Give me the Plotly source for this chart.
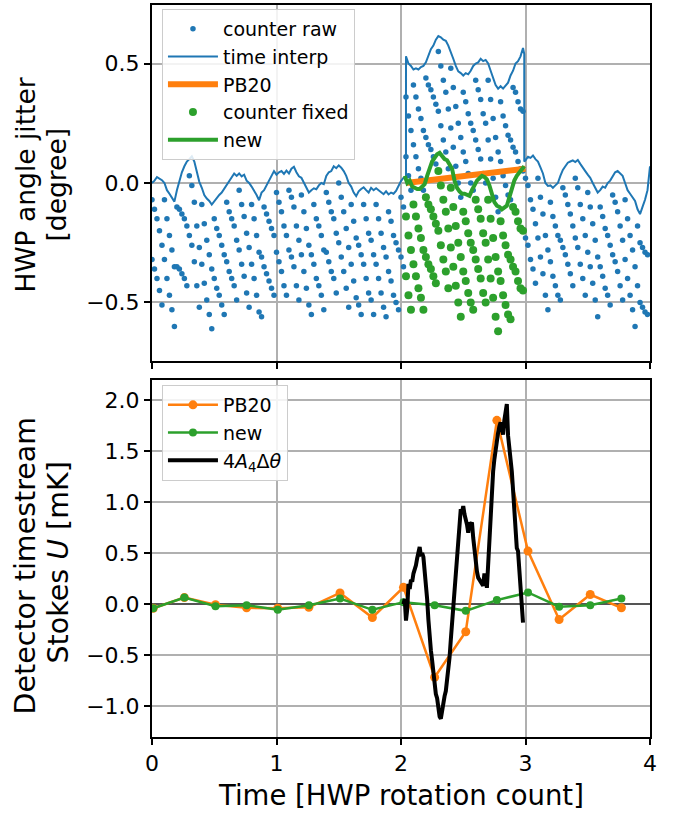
import plotly.graph_objects as go

BLUE = '#1f77b4'
ORANGE = '#ff7f0e'
GREEN = '#2ca02c'

# ---------------- top panel data ----------------
# time-interpolated HWP angle jitter (blue line)
interp_t = [0.00, 0.02, 0.04, 0.06, 0.08, 0.10, 0.12, 0.14, 0.16, 0.18,
            0.20, 0.22, 0.24, 0.26, 0.28, 0.30, 0.32, 0.34, 0.36, 0.38,
            0.40, 0.42, 0.44, 0.46, 0.48, 0.50, 0.52, 0.54, 0.56, 0.58,
            0.60, 0.62, 0.64, 0.66, 0.68, 0.70, 0.72, 0.74, 0.76, 0.78,
            0.80, 0.82, 0.84, 0.86, 0.88, 0.90, 0.92, 0.94, 0.96, 0.98,
            1.00, 1.02, 1.04, 1.06, 1.08, 1.10, 1.12, 1.14, 1.16, 1.18,
            1.20, 1.22, 1.24, 1.26, 1.28, 1.30, 1.32, 1.34, 1.36, 1.38,
            1.40, 1.42, 1.44, 1.46, 1.48, 1.50, 1.52, 1.54, 1.56, 1.58,
            1.60, 1.62, 1.64, 1.66, 1.68, 1.70, 1.72, 1.74, 1.76, 1.78,
            1.80, 1.82, 1.84, 1.86, 1.88, 1.90, 1.92, 1.94, 1.96, 1.98,
            2.00, 2.02, 2.04, 2.04, 2.06, 2.08, 2.10, 2.12, 2.14, 2.16, 2.18,
            2.20, 2.22, 2.24, 2.26, 2.28, 2.30, 2.32, 2.34, 2.36, 2.38,
            2.40, 2.42, 2.44, 2.46, 2.48, 2.50, 2.52, 2.54, 2.56, 2.58,
            2.60, 2.62, 2.64, 2.66, 2.68, 2.70, 2.72, 2.74, 2.76, 2.78,
            2.80, 2.82, 2.84, 2.86, 2.88, 2.90, 2.92, 2.94, 2.96, 2.98,
            2.99, 2.99, 3.00, 3.02, 3.04, 3.06, 3.08, 3.10, 3.12, 3.14, 3.16, 3.18,
            3.20, 3.22, 3.24, 3.26, 3.28, 3.30, 3.32, 3.34, 3.36, 3.38,
            3.40, 3.42, 3.44, 3.46, 3.48, 3.50, 3.52, 3.54, 3.56, 3.58,
            3.60, 3.62, 3.64, 3.66, 3.68, 3.70, 3.72, 3.74, 3.76, 3.78,
            3.80, 3.82, 3.84, 3.86, 3.88, 3.90, 3.92, 3.94, 3.96, 3.98, 4.00]
interp_v = [0.00, 0.01, 0.025, 0.018, 0.012, 0.0, -0.03, -0.045, -0.06, -0.078,
            -0.03, 0.01, 0.045, 0.07, 0.09, 0.10, 0.112, 0.09, 0.04, 0.005,
            -0.02, -0.05, -0.065, -0.075, -0.09, -0.075, -0.065, -0.05, -0.04, -0.025,
            -0.01, 0.005, 0.02, 0.04, 0.03, 0.04, 0.028, 0.035, 0.01, 0.0,
            -0.015, -0.03, -0.05, -0.072, -0.04, -0.03, -0.01, 0.015, 0.03, 0.05,
            0.035, 0.045, 0.05, 0.038, 0.052, 0.04, 0.06, 0.068, 0.045, 0.028,
            0.022, 0.0, -0.015, -0.04, -0.03, -0.022, -0.026, -0.01, 0.0, -0.005,
            0.03, 0.045, 0.05, 0.07, 0.062, 0.074, 0.064, 0.05, 0.03, 0.0,
            -0.015, -0.04, -0.055, -0.035, -0.025, -0.018, -0.03, -0.04, -0.02, -0.03,
            -0.022, -0.03, -0.04, -0.047, -0.035, -0.048, -0.04, -0.045, -0.033, -0.01,
            0.008, 0.022, 0.025, 0.53, 0.50, 0.49, 0.475, 0.48, 0.475, 0.485, 0.49,
            0.505, 0.53, 0.56, 0.575, 0.60, 0.615, 0.61, 0.60, 0.595, 0.575,
            0.55, 0.52, 0.49, 0.467, 0.46, 0.45, 0.46, 0.455, 0.47, 0.49,
            0.50, 0.505, 0.52, 0.51, 0.515, 0.50, 0.47, 0.44, 0.41, 0.395,
            0.405, 0.395, 0.41, 0.42, 0.45, 0.47, 0.50, 0.51, 0.53, 0.565,
            0.54, 0.09, 0.095, 0.11, 0.105, 0.115, 0.10, 0.09, 0.065, 0.04, 0.0, -0.012,
            -0.01, -0.02, -0.01, 0.0, 0.03, 0.055, 0.07, 0.085, 0.09, 0.095,
            0.088, 0.096, 0.08, 0.067, 0.05, 0.035, 0.022, 0.0, -0.02, -0.04,
            -0.03, -0.015, -0.02, 0.0, 0.01, 0.025, 0.045, 0.05, 0.04, 0.03,
            0.0, -0.03, -0.045, -0.06, -0.075, -0.11, -0.13, -0.10, -0.07, -0.03, 0.07]

# raw counter samples (blue dots): two dots per sample time
raw_t = [0.00, 0.02, 0.04, 0.06, 0.08, 0.10, 0.12, 0.14, 0.16, 0.18,
         0.20, 0.22, 0.24, 0.26, 0.28, 0.30, 0.32, 0.34, 0.36, 0.38,
         0.40, 0.42, 0.44, 0.46, 0.48, 0.50, 0.52, 0.54, 0.56, 0.58,
         0.60, 0.62, 0.64, 0.66, 0.68, 0.70, 0.72, 0.74, 0.76, 0.78,
         0.80, 0.82, 0.84, 0.86, 0.88, 0.90, 0.92, 0.94, 0.96, 0.98,
         1.00, 1.02, 1.04, 1.06, 1.08, 1.10, 1.12, 1.14, 1.16, 1.18,
         1.20, 1.22, 1.24, 1.26, 1.28, 1.30, 1.32, 1.34, 1.36, 1.38,
         1.40, 1.42, 1.44, 1.46, 1.48, 1.50, 1.52, 1.54, 1.56, 1.58,
         1.60, 1.62, 1.64, 1.66, 1.68, 1.70, 1.72, 1.74, 1.76, 1.78,
         1.80, 1.82, 1.84, 1.86, 1.88, 1.90, 1.92, 1.94, 1.96, 1.98,
         2.00, 2.02, 2.04, 2.06, 2.08, 2.10, 2.12, 2.14, 2.16, 2.18,
         2.20, 2.22, 2.24, 2.26, 2.28, 2.30, 2.32, 2.34, 2.36, 2.38,
         2.40, 2.42, 2.44, 2.46, 2.48, 2.50, 2.52, 2.54, 2.56, 2.58,
         2.60, 2.62, 2.64, 2.66, 2.68, 2.70, 2.72, 2.74, 2.76, 2.78,
         2.80, 2.82, 2.84, 2.86, 2.88, 2.90, 2.92, 2.94, 2.96, 2.98,
         3.00, 3.02, 3.04, 3.06, 3.08, 3.10, 3.12, 3.14, 3.16, 3.18,
         3.20, 3.22, 3.24, 3.26, 3.28, 3.30, 3.32, 3.34, 3.36, 3.38,
         3.40, 3.42, 3.44, 3.46, 3.48, 3.50, 3.52, 3.54, 3.56, 3.58,
         3.60, 3.62, 3.64, 3.66, 3.68, 3.70, 3.72, 3.74, 3.76, 3.78,
         3.80, 3.82, 3.84, 3.86, 3.88, 3.90, 3.92, 3.94, 3.96, 3.98]
raw_hi = [-0.07, -0.11, -0.15, -0.20, -0.26, -0.07, -0.15, -0.22, -0.28, -0.35,
          -0.10, -0.11, -0.13, -0.15, -0.18, 0.03, -0.01, -0.08, -0.18, -0.27,
          -0.09, -0.17, -0.24, -0.30, -0.36, -0.15, -0.19, -0.22, -0.26, -0.30,
          -0.08, -0.12, -0.15, -0.18, -0.24, -0.03, -0.09, -0.14, -0.21, -0.27,
          -0.09, -0.15, -0.22, -0.29, -0.31, -0.10, -0.13, -0.16, -0.19, -0.22,
          -0.04, -0.08, -0.12, -0.18, -0.22, -0.03, -0.06, -0.10, -0.18, -0.24,
          -0.05, -0.12, -0.19, -0.26, -0.30, -0.09, -0.15, -0.18, -0.22, -0.28,
          -0.04, -0.08, -0.12, -0.15, -0.21, 0.00, -0.06, -0.12, -0.19, -0.27,
          -0.09, -0.16, -0.23, -0.26, -0.30, -0.09, -0.15, -0.21, -0.24, -0.30,
          -0.09, -0.15, -0.21, -0.27, -0.31, -0.12, -0.16, -0.22, -0.25, -0.28,
          -0.06, -0.10, 0.36, 0.28, 0.22, 0.41, 0.36, 0.31, 0.27, 0.22,
          0.44, 0.41, 0.39, 0.36, 0.33, 0.55, 0.49, 0.43, 0.38, 0.31,
          0.48, 0.40, 0.32, 0.25, 0.19, 0.38, 0.34, 0.29, 0.25, 0.22,
          0.43, 0.39, 0.35, 0.29, 0.25, 0.43, 0.35, 0.27, 0.19, 0.13,
          0.34, 0.28, 0.24, 0.20, 0.18, 0.40, 0.38, 0.34, 0.31, 0.30,
          0.02, -0.01, -0.07, -0.11, -0.17, 0.02, -0.06, -0.13, -0.22, -0.28,
          -0.08, -0.14, -0.18, -0.22, -0.24, -0.02, -0.05, -0.09, -0.13, -0.18,
          0.02, -0.02, -0.09, -0.15, -0.22, -0.04, -0.10, -0.17, -0.24, -0.31,
          -0.10, -0.14, -0.19, -0.22, -0.26, -0.05, -0.08, -0.12, -0.18, -0.24,
          -0.07, -0.15, -0.22, -0.28, -0.35, -0.18, -0.25, -0.27, -0.29, -0.30]
raw_lo = [-0.32, -0.36, -0.40, -0.45, -0.51, -0.32, -0.40, -0.47, -0.53, -0.60,
          -0.35, -0.36, -0.38, -0.40, -0.43, -0.22, -0.26, -0.33, -0.43, -0.52,
          -0.34, -0.42, -0.49, -0.55, -0.61, -0.40, -0.44, -0.47, -0.51, -0.55,
          -0.33, -0.37, -0.40, -0.43, -0.49, -0.28, -0.34, -0.39, -0.46, -0.52,
          -0.34, -0.40, -0.47, -0.54, -0.56, -0.35, -0.38, -0.41, -0.44, -0.47,
          -0.29, -0.33, -0.37, -0.43, -0.47, -0.28, -0.31, -0.35, -0.43, -0.49,
          -0.30, -0.37, -0.44, -0.51, -0.55, -0.34, -0.40, -0.43, -0.47, -0.53,
          -0.29, -0.33, -0.37, -0.40, -0.46, -0.25, -0.31, -0.37, -0.44, -0.52,
          -0.34, -0.41, -0.48, -0.51, -0.55, -0.34, -0.40, -0.46, -0.49, -0.55,
          -0.34, -0.40, -0.46, -0.52, -0.56, -0.37, -0.41, -0.47, -0.50, -0.53,
          -0.31, -0.35, 0.11, 0.03, -0.03, 0.16, 0.11, 0.06, 0.02, -0.03,
          0.19, 0.16, 0.14, 0.11, 0.08, 0.30, 0.24, 0.18, 0.13, 0.06,
          0.23, 0.15, 0.07, 0.00, -0.06, 0.13, 0.09, 0.04, 0.00, -0.03,
          0.18, 0.14, 0.10, 0.04, 0.00, 0.18, 0.10, 0.02, -0.06, -0.12,
          0.09, 0.03, -0.01, -0.05, -0.07, 0.15, 0.13, 0.09, 0.06, 0.05,
          -0.23, -0.26, -0.32, -0.36, -0.42, -0.23, -0.31, -0.38, -0.47, -0.53,
          -0.33, -0.39, -0.43, -0.47, -0.49, -0.27, -0.30, -0.34, -0.38, -0.43,
          -0.23, -0.27, -0.34, -0.40, -0.47, -0.29, -0.35, -0.42, -0.49, -0.56,
          -0.35, -0.39, -0.44, -0.47, -0.51, -0.30, -0.33, -0.37, -0.43, -0.49,
          -0.32, -0.40, -0.47, -0.53, -0.60, -0.43, -0.50, -0.52, -0.54, -0.55]

# PB20 correction (orange band)
pb20_top_t = [2.04, 2.52, 3.00]
pb20_top_v = [0.00, 0.03, 0.06]

# fixed counter samples (green dots)
fix_t = [2.04, 2.06, 2.08, 2.10, 2.12, 2.14, 2.16, 2.18,
         2.20, 2.22, 2.24, 2.26, 2.28, 2.30, 2.32, 2.34, 2.36, 2.38,
         2.40, 2.42, 2.44, 2.46, 2.48, 2.50, 2.52, 2.54, 2.56, 2.58,
         2.60, 2.62, 2.64, 2.66, 2.68, 2.70, 2.72, 2.74, 2.76, 2.78,
         2.80, 2.82, 2.84, 2.86, 2.88, 2.90, 2.92, 2.94, 2.96, 2.98]
fix_hi = [-0.14, -0.22, -0.28, -0.09, -0.14, -0.19, -0.23, -0.28,
          -0.06, -0.09, -0.11, -0.14, -0.17, 0.05, -0.01, -0.07, -0.12, -0.19,
          -0.02, -0.10, -0.18, -0.25, -0.31, -0.12, -0.16, -0.21, -0.25, -0.28,
          -0.07, -0.11, -0.15, -0.21, -0.25, -0.07, -0.15, -0.23, -0.31, -0.37,
          -0.16, -0.22, -0.26, -0.30, -0.32, -0.10, -0.12, -0.16, -0.19, -0.20]
fix_lo = [-0.39, -0.47, -0.53, -0.34, -0.39, -0.44, -0.48, -0.53,
          -0.31, -0.34, -0.36, -0.39, -0.42, -0.20, -0.26, -0.32, -0.37, -0.44,
          -0.27, -0.35, -0.43, -0.50, -0.56, -0.37, -0.41, -0.46, -0.50, -0.53,
          -0.32, -0.36, -0.40, -0.46, -0.50, -0.32, -0.40, -0.48, -0.56, -0.62,
          -0.41, -0.47, -0.51, -0.55, -0.57, -0.35, -0.37, -0.41, -0.44, -0.45]

# new method (green line)
new_top_t = [2.03, 2.05, 2.07, 2.09, 2.11, 2.13, 2.15, 2.17, 2.19, 2.21,
             2.23, 2.25, 2.27, 2.29, 2.31, 2.33, 2.35, 2.37, 2.39, 2.41,
             2.43, 2.45, 2.47, 2.49, 2.51, 2.53, 2.55, 2.57, 2.59, 2.61,
             2.63, 2.65, 2.67, 2.69, 2.71, 2.73, 2.75, 2.77, 2.79, 2.81,
             2.83, 2.85, 2.87, 2.89, 2.91, 2.93, 2.95, 2.97, 2.99]
new_top_v = [0.03, 0.0, 0.01, -0.015, -0.02, -0.025, -0.025, -0.015, -0.005, 0.03,
             0.06, 0.09, 0.105, 0.12, 0.126, 0.11, 0.10, 0.095, 0.08, 0.06,
             0.01, -0.02, -0.035, -0.045, -0.045, -0.05, -0.054, -0.03, -0.01, 0.01,
             0.02, 0.03, 0.025, 0.015, -0.01, -0.045, -0.08, -0.095, -0.10, -0.11,
             -0.10, -0.095, -0.06, -0.02, 0.01, 0.03, 0.045, 0.06, 0.07]

# ---------------- bottom panel data ----------------
bin_t = [0.01, 0.26, 0.51, 0.76, 1.01, 1.26, 1.51, 1.77,
         2.02, 2.27, 2.52, 2.77, 3.02, 3.27, 3.52, 3.77]
pb20_u = [-0.04, 0.065, -0.005, -0.035, -0.04, -0.03, 0.11, -0.13,
          0.165, -0.715, -0.27, 1.80, 0.52, -0.15, 0.095, -0.035]
new_u = [-0.04, 0.065, -0.02, -0.01, -0.055, -0.01, 0.055, -0.055,
         0.02, -0.01, -0.065, 0.04, 0.115, -0.025, -0.01, 0.055]

model_t = [2.02, 2.03, 2.04, 2.05, 2.06, 2.07, 2.08, 2.09, 2.10, 2.11,
           2.12, 2.13, 2.14, 2.15, 2.16, 2.17, 2.18, 2.19, 2.20, 2.21,
           2.22, 2.23, 2.24, 2.25, 2.26, 2.27, 2.28, 2.29, 2.30, 2.31,
           2.32, 2.33, 2.34, 2.35, 2.36, 2.37, 2.38, 2.39, 2.40, 2.41,
           2.42, 2.43, 2.44, 2.45, 2.46, 2.47, 2.48, 2.49, 2.50, 2.51,
           2.52, 2.53, 2.54, 2.55, 2.56, 2.57, 2.58, 2.59, 2.60, 2.61,
           2.62, 2.63, 2.64, 2.65, 2.66, 2.67, 2.68, 2.69, 2.70, 2.71,
           2.72, 2.73, 2.74, 2.75, 2.76, 2.77, 2.78, 2.79, 2.80, 2.81,
           2.82, 2.83, 2.84, 2.85, 2.86, 2.87, 2.88, 2.89, 2.90, 2.91,
           2.92, 2.93, 2.94, 2.95, 2.96, 2.97, 2.98]
model_u = [0.0, 0.05, -0.16, -0.05, 0.20, 0.15, 0.24, 0.22, 0.30, 0.33,
           0.38, 0.45, 0.53, 0.56, 0.47, 0.50, 0.46, 0.35, 0.22, 0.05,
           -0.15, -0.35, -0.45, -0.55, -0.70, -0.85, -0.88, -0.92, -1.02, -1.10,
           -1.12, -1.02, -0.94, -0.90, -0.85, -0.76, -0.68, -0.52, -0.35, -0.18,
           -0.02, 0.18, 0.35, 0.52, 0.68, 0.82, 0.93, 0.90, 0.96, 0.88,
           0.84, 0.78, 0.70, 0.80, 0.78, 0.80, 0.65, 0.52, 0.40, 0.32,
           0.26, 0.24, 0.22, 0.20, 0.18, 0.30, 0.26, 0.16, 0.40, 0.65,
           0.90, 1.00, 1.30, 1.42, 1.52, 1.62, 1.68, 1.74, 1.78, 1.72,
           1.66, 1.80, 1.88, 1.96, 1.65, 1.55, 1.42, 1.30, 1.12, 0.95,
           0.70, 0.55, 0.52, 0.35, 0.15, -0.05, -0.18]

x_ticks = [0, 1, 2, 3, 4]
top_ticks = [-0.5, 0.0, 0.5]
top_ticktext = ['\u22120.5', '0.0', '0.5']
bot_ticks = [-1.0, -0.5, 0.0, 0.5, 1.0, 1.5, 2.0]
bot_ticktext = ['\u22121.0', '\u22120.5', '0.0', '0.5', '1.0', '1.5', '2.0']

FONT = 'DejaVu Sans'

fig = go.Figure()

# top panel
fig.add_trace(go.Scatter(x=raw_t + raw_t, y=raw_hi + raw_lo, mode='markers',
                         marker=dict(color=BLUE, size=5.5, line=dict(width=0)),
                         name='counter raw', xaxis='x', yaxis='y', legend='legend'))
fig.add_trace(go.Scatter(x=interp_t, y=interp_v, mode='lines',
                         line=dict(color=BLUE, width=2),
                         name='time interp', xaxis='x', yaxis='y', legend='legend'))
fig.add_trace(go.Scatter(x=pb20_top_t, y=pb20_top_v, mode='lines',
                         line=dict(color=ORANGE, width=6),
                         name='PB20', xaxis='x', yaxis='y', legend='legend'))
fig.add_trace(go.Scatter(x=fix_t + fix_t, y=fix_hi + fix_lo, mode='markers',
                         marker=dict(color=GREEN, size=8, line=dict(width=0)),
                         name='counter fixed', xaxis='x', yaxis='y', legend='legend'))
fig.add_trace(go.Scatter(x=new_top_t, y=new_top_v, mode='lines',
                         line=dict(color=GREEN, width=4),
                         name='new', xaxis='x', yaxis='y', legend='legend'))

# bottom panel
fig.add_trace(go.Scatter(x=bin_t, y=pb20_u, mode='lines+markers',
                         line=dict(color=ORANGE, width=2.5),
                         marker=dict(color=ORANGE, size=9),
                         name='PB20', xaxis='x2', yaxis='y2', legend='legend2'))
fig.add_trace(go.Scatter(x=bin_t, y=new_u, mode='lines+markers',
                         line=dict(color=GREEN, width=2.5),
                         marker=dict(color=GREEN, size=8),
                         name='new', xaxis='x2', yaxis='y2', legend='legend2'))
fig.add_trace(go.Scatter(x=model_t, y=model_u, mode='lines',
                         line=dict(color='black', width=4),
                         name='4<i>A</i><sub>4</sub>\u0394<i>\u03b8</i>',
                         xaxis='x2', yaxis='y2', legend='legend2'))

axis_common = dict(showline=True, linecolor='black', linewidth=2, mirror=True,
                   ticks='outside', ticklen=6, tickwidth=1.5, tickcolor='black',
                   showgrid=True, gridcolor='#b0b0b0', gridwidth=1.5,
                   tickfont=dict(family=FONT, size=22, color='black'))

TOP_LO = (737 - 360) / 734
BOT_HI = (737 - 379) / 734

legend_common = dict(xanchor='left', yanchor='top', itemwidth=50,
                     bgcolor='rgba(255,255,255,0.85)', bordercolor='#cccccc', borderwidth=1,
                     font=dict(family=FONT, size=19, color='black'), tracegroupgap=0)


def ytitle(text, xpix, ypix, size):
    return dict(text=text, xref='paper', yref='paper',
                x=(xpix - 152) / 498, y=(737 - ypix) / 734,
                xanchor='center', yanchor='middle', textangle=-90, showarrow=False,
                font=dict(family=FONT, size=size, color='black'))


fig.update_layout(
    width=680, height=815,
    margin=dict(l=152, r=30, t=3, b=78),
    paper_bgcolor='white', plot_bgcolor='white',
    font=dict(family=FONT, color='black'),
    xaxis=dict(domain=[0, 1], anchor='y', range=[0, 4], tickvals=x_ticks,
               showticklabels=False, zeroline=False, matches='x2', **axis_common),
    yaxis=dict(domain=[TOP_LO, 1], anchor='x', range=[-0.745, 0.745],
               tickvals=top_ticks, ticktext=top_ticktext, zeroline=False, **axis_common),
    xaxis2=dict(domain=[0, 1], anchor='y2', range=[0, 4], tickvals=x_ticks,
                ticktext=[str(v) for v in x_ticks], zeroline=False, **axis_common),
    yaxis2=dict(domain=[0, BOT_HI], anchor='x2', range=[-1.30, 2.195],
                tickvals=bot_ticks, ticktext=bot_ticktext,
                zeroline=True, zerolinecolor='#555555', zerolinewidth=2, **axis_common),
    legend=dict(x=0.02, y=(737 - 7) / 734, **legend_common),
    legend2=dict(x=0.02, y=(737 - 384) / 734, **legend_common),
    annotations=[
        dict(text='Time [HWP rotation count]', xref='paper', yref='paper',
             x=0.5, y=(737 - 795) / 734, xanchor='center', yanchor='middle',
             showarrow=False, font=dict(family=FONT, size=27.5, color='black')),
        ytitle('HWP angle jitter', 26, 184, 26.5),
        ytitle('[degree]', 57, 183, 26.5),
        ytitle('Detector timestream', 25, 565, 28.5),
        ytitle('Stokes <i>U</i> [mK]', 58, 562, 28.5),
    ],
)

fig.write_html('out.html')
